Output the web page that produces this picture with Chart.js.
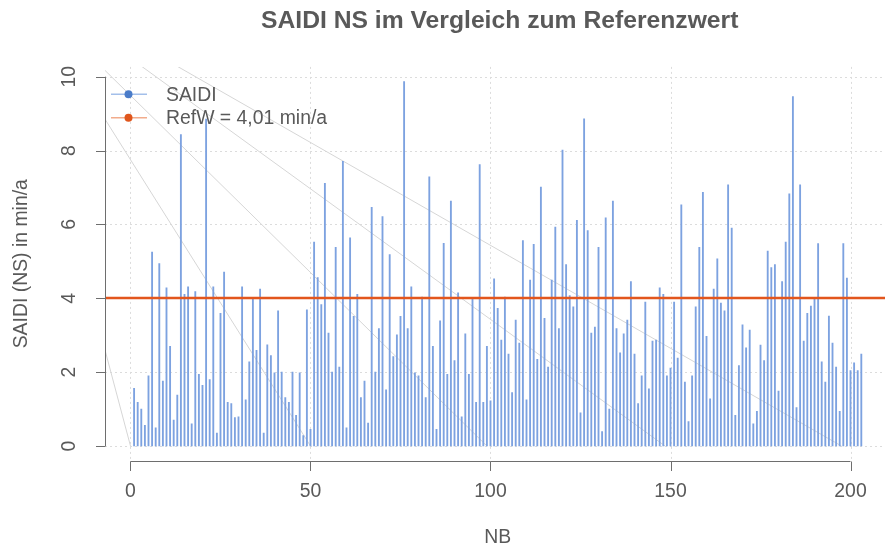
<!DOCTYPE html>
<html><head><meta charset="utf-8">
<script src="https://cdn.jsdelivr.net/npm/chart.js@4.4.1/dist/chart.umd.min.js"></script>
<style>html,body{margin:0;padding:0;background:#fff;overflow:hidden}canvas{display:block}</style>
</head><body>
<canvas id="c" width="885" height="549"></canvas>
<script>
// ---- data ----
const saidi = [
 1.56,1.18,1.00,0.56,1.90,5.25,0.49,4.94,1.76,4.28,
 2.70,0.70,1.38,8.43,4.11,4.31,0.60,4.18,1.94,1.64,
 8.85,1.80,4.31,0.35,3.59,4.71,1.18,1.15,0.77,0.79,
 4.31,1.25,2.28,3.98,2.59,4.25,0.35,2.74,2.45,1.98,
 3.66,2.00,1.31,1.18,2.00,0.83,1.98,0.28,3.69,0.45,
 5.52,4.56,3.83,7.11,3.06,2.00,5.38,2.14,7.71,0.49,
 5.64,3.51,4.11,1.31,1.76,0.62,6.46,2.00,3.18,6.21,
 1.52,5.18,2.42,3.01,3.51,9.87,3.18,4.31,1.98,1.90,
 4.03,1.31,7.29,2.70,0.45,3.39,5.49,1.94,6.63,2.31,
 4.15,0.79,3.04,1.94,3.97,1.18,7.62,1.18,2.70,1.22,
 4.53,3.73,2.87,4.03,2.49,1.45,3.41,2.79,5.56,1.25,
 4.49,5.46,2.35,7.01,3.46,2.14,4.49,5.93,3.18,8.01,
 4.91,4.07,3.77,6.11,0.90,8.86,5.83,3.06,3.22,5.38,
 0.39,6.18,1.00,6.63,3.18,2.52,3.04,3.41,4.45,2.49,
 1.15,1.90,3.90,1.55,2.84,2.87,4.28,4.11,1.90,2.11,
 3.90,2.38,6.53,1.73,0.66,1.90,3.77,5.38,6.87,2.97,
 1.28,4.25,5.07,3.87,3.66,7.07,5.90,0.83,2.18,3.28,
 2.66,3.14,0.60,0.94,2.73,2.31,5.28,4.83,4.91,1.49,
 4.45,5.52,6.83,9.46,1.04,7.07,2.84,3.59,3.79,3.97,
 5.48,2.28,1.73,3.52,2.79,2.14,0.94,5.48,4.55,2.04,
 2.25,2.04,2.49
];
const nb = saidi.map((v, i) => i + 1);           // NB index 1..203
const refW = 4.01;
const refLabel = "RefW = 4,01 min/a";
const xTicks = [0, 50, 100, 150, 200];
const yTicks = [0, 2, 4, 6, 8, 10];
// faint diagonal reference lines: value at left plot edge, x where they reach 0
const diagLeftY = [2.6, 8.85, 10.17, 11.0, 11.4];
const diagZeroX = [0, 50, 99, 148.5, 197.5];

const xMin = -7.08, xMax = 209.58, yMin = -0.395, yMax = 10.265;

const FONT = '"Liberation Sans", Arial, Helvetica, sans-serif';
const TXT = '#595959';

const diagSets = diagLeftY.map((ly, i) => ({
  type: 'line',
  data: [{x: xMin, y: ly}, {x: diagZeroX[i], y: 0}],
  borderColor: '#d6d6d6', borderWidth: 1, pointRadius: 0, fill: false, order: 3
}));

const rStyle = {
  id: 'rStyle',
  beforeDatasetsDraw(chart) {
    const {ctx, chartArea: a, scales: {x, y}} = chart;
    ctx.save();
    ctx.strokeStyle = '#dcdcdc';
    ctx.lineWidth = 1;
    ctx.setLineDash([2, 3]);
    yTicks.forEach(v => {
      const py = Math.round(y.getPixelForValue(v)) + 0.5;
      ctx.beginPath(); ctx.moveTo(a.left, py); ctx.lineTo(a.right, py); ctx.stroke();
    });
    xTicks.forEach(v => {
      const px = Math.round(x.getPixelForValue(v)) + 0.5;
      ctx.beginPath(); ctx.moveTo(px, a.top); ctx.lineTo(px, a.bottom); ctx.stroke();
    });
    ctx.restore();
  },
  afterDraw(chart) {
    const {ctx, chartArea: a, scales: {x, y}} = chart;
    ctx.save();
    // axes
    ctx.strokeStyle = '#6e6e6e';
    ctx.lineWidth = 1;
    const by = Math.round(a.bottom) + 0.5;
    const lx = Math.round(a.left) + 0.5;
    ctx.beginPath();
    ctx.moveTo(x.getPixelForValue(xTicks[0]), by);
    ctx.lineTo(x.getPixelForValue(xTicks[xTicks.length - 1]), by);
    xTicks.forEach(v => {
      const px = Math.round(x.getPixelForValue(v)) + 0.5;
      ctx.moveTo(px, by); ctx.lineTo(px, by + 9.5);
    });
    ctx.moveTo(lx, y.getPixelForValue(yTicks[0]));
    ctx.lineTo(lx, y.getPixelForValue(yTicks[yTicks.length - 1]));
    yTicks.forEach(v => {
      const py = Math.round(y.getPixelForValue(v)) + 0.5;
      ctx.moveTo(lx, py); ctx.lineTo(lx - 9.5, py);
    });
    ctx.stroke();

    ctx.fillStyle = TXT;
    ctx.font = '19.4px ' + FONT;
    ctx.textAlign = 'center';
    ctx.textBaseline = 'middle';
    xTicks.forEach(v => ctx.fillText(String(v), x.getPixelForValue(v), 492));
    yTicks.forEach(v => {
      ctx.save();
      ctx.translate(70, y.getPixelForValue(v));
      ctx.rotate(-Math.PI / 2);
      ctx.fillText(String(v), 0, 0);
      ctx.restore();
    });
    const cx = x.getPixelForValue((xMin + 211.08) / 2);
    ctx.fillText('NB', cx, 538);
    ctx.save();
    ctx.translate(22, (a.top + a.bottom) / 2);
    ctx.rotate(-Math.PI / 2);
    ctx.fillText('SAIDI (NS) in min/a', 0, 0);
    ctx.restore();

    // title
    ctx.font = 'bold 24.7px ' + FONT;
    ctx.fillText('SAIDI NS im Vergleich zum Referenzwert', cx + 2, 21);

    // legend
    const items = [
      {label: 'SAIDI', line: '#a3bfea', dot: '#4a7cc9', y: 94.3},
      {label: refLabel, line: '#f2ac8c', dot: '#e0561c', y: 117.8}
    ];
    ctx.font = '19.4px ' + FONT;
    ctx.textAlign = 'left';
    items.forEach(it => {
      ctx.strokeStyle = it.line; ctx.lineWidth = 1.5;
      ctx.beginPath(); ctx.moveTo(111, it.y); ctx.lineTo(147, it.y); ctx.stroke();
      ctx.fillStyle = it.dot;
      ctx.beginPath(); ctx.arc(128.5, it.y, 4, 0, Math.PI * 2); ctx.fill();
      ctx.fillStyle = TXT;
      ctx.fillText(it.label, 166, it.y + 1);
    });
    ctx.restore();
  }
};

new Chart(document.getElementById('c'), {
  type: 'bar',
  data: {
    datasets: [
      {
        type: 'bar', label: 'SAIDI',
        data: nb.map((n, i) => ({x: n, y: saidi[i]})),
        backgroundColor: '#7da2e0', borderWidth: 0,
        barThickness: 1.2, order: 2
      },
      ...diagSets,
      {
        type: 'line', label: refLabel,
        data: [{x: xMin, y: refW}, {x: xMax, y: refW}],
        borderColor: '#e2561d', borderWidth: 2.5, pointRadius: 0, fill: false, order: 1
      }
    ]
  },
  options: {
    responsive: false, animation: false, devicePixelRatio: 1,
    layout: {padding: {left: 105, top: 66.9, right: 0, bottom: 549 - 460.6}},
    plugins: {legend: {display: false}, tooltip: {enabled: false}, title: {display: false}},
    scales: {
      x: {type: 'linear', min: xMin, max: xMax, display: false, offset: false},
      y: {type: 'linear', min: yMin, max: yMax, display: false}
    }
  },
  plugins: [rStyle]
});
</script>
</body></html>
